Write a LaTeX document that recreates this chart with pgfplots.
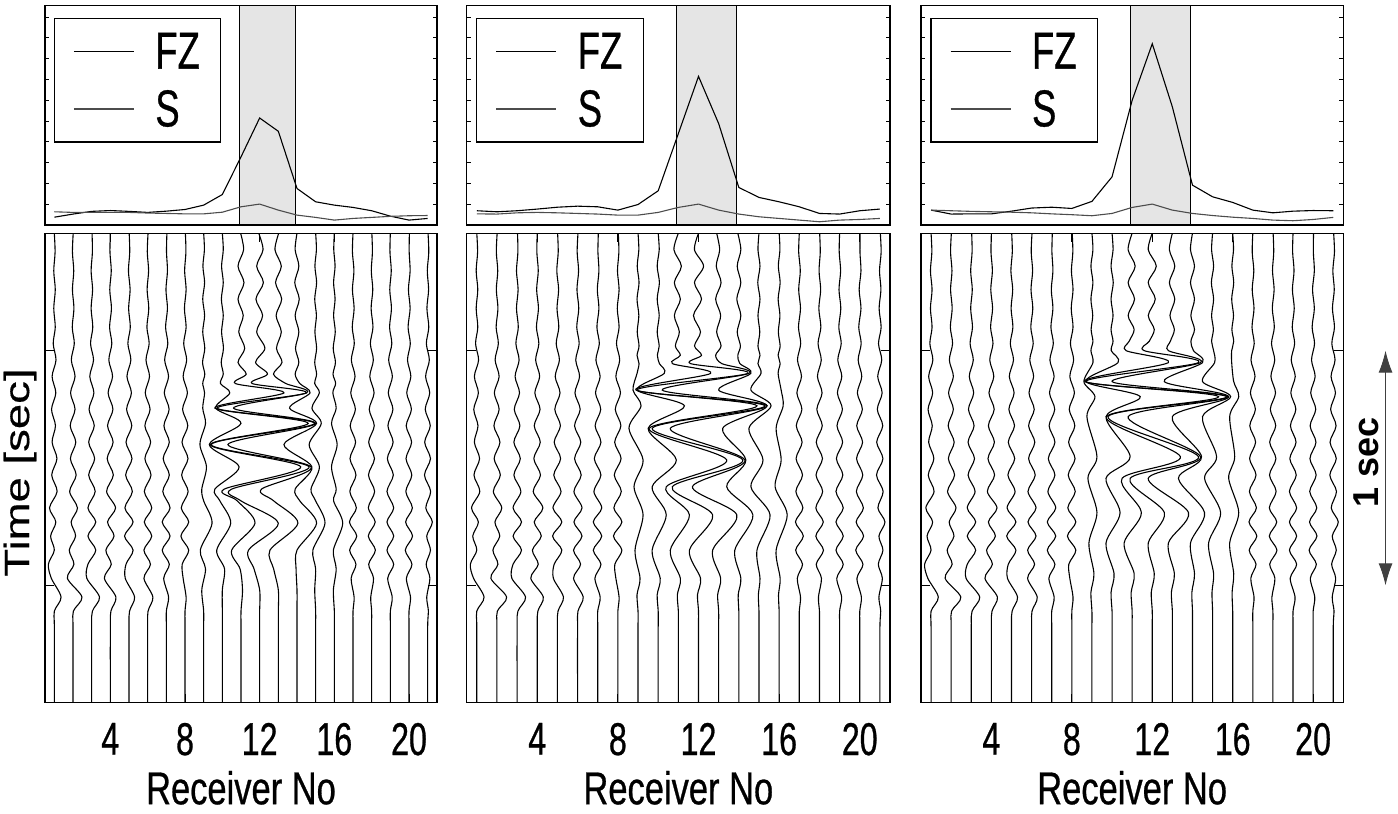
\documentclass[border=0pt]{standalone}
\usepackage{fontspec}
\usepackage{pgfplots}
\pgfplotsset{compat=1.18}
\usepackage{pgfplotstable}
\usetikzlibrary{arrows.meta}
\setmainfont{Liberation Sans}[FakeStretch=0.7,FakeBold=0.6]
\newfontfamily\lblfont{Liberation Sans}[FakeStretch=0.75,FakeBold=0.6]
\newfontfamily\timefont{Liberation Sans}[FakeStretch=1.3,FakeBold=0.4]
\newfontfamily\secfont{Liberation Sans}

% background traces (offsets from receiver position), same in all three panels
\pgfplotstableread{
t    r1    r2    r3    r4    r5    r6    r7    r8    r17   r18   r19   r20   r21
0.00 0.00  0.01  0.02  0.00  0.01  0.02  0.03  0.02  0.00  0.01  0.00  0.02  0.02
0.08 0.04  -0.03 0.04  -0.02 0.04  -0.02 0.01  0.05  -0.03 0.04  -0.02 0.01  0.06
0.16 -0.03 0.04  -0.03 0.05  -0.03 0.05  0.06  -0.02 0.05  -0.02 0.05  0.06  -0.02
0.24 0.05  -0.03 0.05  -0.03 0.06  -0.03 -0.02 0.06  -0.03 0.06  -0.03 -0.03 0.05
0.32 -0.03 0.05  -0.03 0.06  -0.02 0.06  0.06  -0.03 0.06  -0.03 0.06  0.06  -0.04
0.40 0.05  -0.04 0.06  -0.04 0.07  -0.04 -0.04 0.06  -0.04 0.07  -0.04 -0.05 0.06
0.47 -0.06 0.07  -0.06 0.08  -0.06 0.08  0.08  -0.07 0.07  -0.07 0.08  0.07  -0.07
0.54 0.09  -0.09 0.10  -0.08 0.10  -0.09 -0.09 0.09  -0.09 0.09  -0.09 -0.08 0.09
0.61 -0.12 0.11  -0.10 0.12  -0.11 0.10  0.12  -0.10 0.11  -0.10 0.11  0.10  -0.11
0.68 0.08  -0.13 0.12  -0.12 0.13  -0.13 -0.11 0.13  -0.12 0.13  -0.11 -0.12 0.11
0.75 -0.15 0.11  -0.14 0.14  -0.13 0.13  0.15  -0.13 0.13  -0.13 0.14  0.13  -0.13
0.82 0.06  -0.15 0.14  -0.15 0.15  -0.15 -0.13 0.15  -0.15 0.14  -0.13 -0.15 0.14
0.89 -0.12 0.15  -0.16 0.15  -0.16 0.16  0.16  -0.16 0.14  -0.16 0.15  0.14  -0.16
0.96 0.14  -0.14 0.16  -0.17 0.16  -0.15 -0.17 0.16  -0.16 0.15  -0.16 -0.16 0.15
1.03 -0.14 0.17  -0.16 0.16  -0.18 0.18  0.16  -0.18 0.16  -0.17 0.16  0.15  -0.17
1.10 0.15  -0.18 0.19  -0.20 0.18  -0.18 -0.19 0.17  -0.17 0.16  -0.18 -0.17 0.16
1.17 -0.26 0.24  -0.20 0.28  -0.22 0.22  0.20  -0.20 0.18  -0.18 0.18  0.18  -0.10
1.23 0.08  -0.10 0.22  -0.15 0.22  -0.18 -0.22 0.20  -0.19 0.19  -0.18 -0.18 0.25
1.29 -0.20 0.14  -0.20 0.20  -0.24 0.22  0.20  -0.22 0.20  -0.18 0.18  0.19  -0.05
1.35 0.00  -0.20 0.22  -0.24 0.22  -0.20 -0.22 0.20  -0.18 0.20  -0.18 -0.20 0.15
1.41 -0.32 0.05  -0.20 0.05  -0.16 0.15  0.16  -0.15 0.16  -0.16 0.18  0.16  -0.08
1.47 -0.16 -0.30 -0.26 -0.32 -0.20 -0.20 -0.14 -0.10 -0.10 0.10  -0.14 -0.14 0.12
1.55 0.36  0.48  0.42  0.30  0.30  0.28  0.12  0.06  0.06  -0.05 0.10  0.08  -0.05
1.61 0.00  0.02  0.04  0.03  0.03  0.02  0.00  0.00  0.00  0.00  0.00  0.00  0.04
1.68 0.00  0.00  0.00  0.00  0.00  0.00  0.00  0.00  0.00  0.00  0.00  0.00  0.00
2.00 0.00  0.00  0.00  0.00  0.00  0.00  0.00  0.00  0.00  0.00  0.00  0.00  0.00
}\outer

% central traces, panel 1 (absolute positions)
\pgfplotstableread{
t     r9    r10   r11   r12   r13   r14   r15   r16
0.00  9.00  10.00 10.98 11.95 13.02 14.00 15.00 16.00
0.07  9.04  10.05 11.14 12.18 12.82 13.90 15.04 15.97
0.14  8.96  9.96  10.84 11.84 13.16 14.10 14.96 16.04
0.21  9.05  10.05 11.16 12.20 12.85 13.88 15.05 15.96
0.28  8.95  9.95  10.84 11.80 13.18 14.12 14.95 16.04
0.35  9.05  10.05 11.12 12.16 12.88 13.90 15.04 15.96
0.42  8.95  9.96  10.88 11.84 13.16 14.10 14.96 16.05
0.49  9.06  10.06 11.20 12.28 12.90 13.92 15.05 15.94
0.55  8.94  9.94  10.84 11.78 13.20 14.10 14.95 16.06
0.60  9.06  10.05 11.28 12.42 12.74 13.90 15.05 15.93
0.64  8.95  9.90  10.70 11.60 13.40 14.15 14.95 16.07
0.68  9.05  10.40 13.30 14.50 14.50 14.70 15.20 15.92
0.745 8.95  9.65  9.60  9.72  10.60 13.60 14.80 16.10
0.81  9.10  11.00 14.60 14.95 15.00 15.05 15.30 15.85
0.90  8.80  9.30  9.35  9.40  10.30 13.30 14.65 16.15
0.995 9.15  10.90 14.20 14.65 14.75 14.80 15.20 15.85
1.09  8.90  9.60  10.10 10.50 12.10 13.90 14.75 16.10
1.14  9.00  9.87  10.80 11.00 12.75 14.15 15.00 15.96
1.235 9.45  10.45 11.75 13.00 14.05 15.05 15.50 16.45
1.35  8.82  9.70  10.50 11.40 12.55 14.00 14.85 15.95
1.43  9.10  10.12 10.95 11.70 12.75 13.95 15.00 16.10
1.52  8.90  10.00 11.08 12.00 13.00 14.00 14.95 15.95
1.61  9.00  10.00 11.00 12.00 13.00 14.00 15.00 16.00
1.68  9.00  10.00 11.00 12.00 13.00 14.00 15.00 16.00
2.00  9.00  10.00 11.00 12.00 13.00 14.00 15.00 16.00
}\waveA

% central traces, panel 2
\pgfplotstableread{
t     r9    r10   r11   r12   r13   r14   r15   r16
0.00  9.00  10.00 11.00 12.00 12.90 13.95 15.00 16.00
0.07  9.04  10.05 10.78 11.80 13.05 14.10 14.95 16.04
0.14  8.96  9.95  11.15 12.25 12.88 13.92 15.05 15.96
0.21  9.05  10.06 10.80 11.80 13.12 14.10 14.94 16.05
0.28  8.95  9.95  11.10 12.15 12.85 13.90 15.05 15.95
0.35  9.04  10.05 10.80 11.75 13.10 14.10 14.95 16.04
0.42  8.96  9.95  11.05 12.10 12.90 13.92 15.04 15.96
0.48  9.05  10.05 10.85 11.80 13.12 14.08 14.95 16.05
0.52  8.95  9.96  11.10 12.15 12.85 13.95 15.05 15.95
0.555 9.05  10.06 10.70 11.60 13.15 14.05 14.95 16.05
0.597 8.95  10.30 12.60 14.45 14.50 14.60 15.10 15.95
0.668 8.75  8.95  8.90  8.95  10.20 13.00 14.60 16.10
0.735 9.15  11.30 14.90 15.30 15.40 15.40 15.60 16.20
0.831 8.55  9.50  9.55  9.70  10.60 13.20 14.50 15.85
0.966 9.25  10.90 13.40 14.20 14.30 14.35 15.20 16.10
1.08  8.80  9.70  10.40 10.70 11.70 13.40 14.60 15.80
1.20  9.25  10.40 11.55 12.70 13.90 14.70 15.55 16.40
1.35  8.85  9.70  10.60 11.55 12.70 13.80 14.90 15.85
1.47  9.10  10.10 11.10 12.10 13.10 14.10 15.05 16.05
1.54  8.95  9.95  10.95 11.95 12.95 13.97 14.97 15.97
1.61  9.00  10.00 11.00 12.00 13.00 14.00 15.00 16.00
1.68  9.00  10.00 11.00 12.00 13.00 14.00 15.00 16.00
2.00  9.00  10.00 11.00 12.00 13.00 14.00 15.00 16.00
}\waveB

% central traces, panel 3
\pgfplotstableread{
t     r9    r10   r11   r12   r13   r14   r15   r16
0.00  9.00  10.00 11.00 12.00 13.00 14.00 15.00 16.00
0.07  9.05  10.05 10.80 11.80 12.85 13.90 14.95 16.04
0.14  8.95  9.95  11.15 12.20 13.12 14.10 15.05 15.96
0.21  9.05  10.06 10.80 11.80 12.85 13.90 14.94 16.05
0.28  8.95  9.95  11.12 12.15 13.12 14.10 15.05 15.95
0.35  9.04  10.05 10.80 11.80 12.88 13.92 14.95 16.04
0.41  8.96  9.95  11.10 12.10 13.10 14.10 15.04 15.96
0.46  9.05  10.05 10.85 11.85 12.90 13.92 14.95 16.05
0.50  8.95  9.96  10.70 11.60 12.80 14.05 15.05 15.95
0.551 9.05  10.30 12.80 14.30 14.40 14.50 15.10 15.95
0.632 8.60  8.70  8.65  8.70  10.00 12.60 14.50 16.05
0.696 9.15  11.40 15.30 15.70 15.75 15.80 15.90 16.30
0.781 8.75  9.70  9.72  9.80  10.80 13.00 14.50 15.85
0.952 9.25  10.90 13.40 14.30 14.40 14.45 15.20 16.10
1.044 8.80  9.70  10.50 10.90 11.80 13.30 14.60 15.80
1.19  9.25  10.40 11.46 12.60 13.80 14.60 15.40 16.30
1.32  8.85  9.70  10.60 11.80 12.80 13.90 14.80 15.85
1.45  9.10  10.10 11.10 12.10 13.10 14.10 15.05 16.05
1.53  8.95  9.95  10.95 11.95 12.95 13.97 14.97 15.97
1.61  9.00  10.00 11.00 12.00 13.00 14.00 15.00 16.00
1.68  9.00  10.00 11.00 12.00 13.00 14.00 15.00 16.00
2.00  9.00  10.00 11.00 12.00 13.00 14.00 15.00 16.00
}\waveC

\pgfplotsset{
  common/.style={scale only axis, xmin=0.5, xmax=21.5, axis on top,
    axis line style={line width=1.5pt}, tick align=inside, tick pos=both,
    every tick/.style={black, line width=1pt},
    /pgf/number format/assume math mode=true, anchor=south west},
  toppanel/.style={common, ymin=0, ymax=10.55, height=219.4pt, xtick=\empty,
    ytick={1,2,3,4,5,6,7,8,9,10}, yticklabels={}, major tick length=4pt,
    legend style={at={(0.022,0.944)}, anchor=north west, draw=black, line width=1.3pt,
      font=\fontsize{52}{56}\selectfont, inner xsep=19pt, inner ysep=12.2pt, row sep=16pt,
      nodes={inner sep=2pt}, /tikz/every odd column/.append style={column sep=19pt}},
    legend cell align=left,
    legend image code/.code={\draw[##1, line width=1.1pt] (0pt,0pt) -- (60pt,0pt);}},
  botpanel/.style={common, ymin=0, ymax=2, y dir=reverse, height=469.4pt,
    xtick={4,8,12,16,20}, ytick={0.5,1.5}, yticklabels={}, major tick length=9pt,
    xticklabel style={font=\fontsize{46}{50}\selectfont, inner sep=0pt, yshift=-20pt},
    xlabel={\lblfont\fontsize{46}{50}\selectfont Receiver No},
    xlabel style={at={(axis description cs:0.5,0)}, anchor=north, inner sep=0pt, yshift=-68pt},
    clip=false},
  trace/.style={black, line width=1.1pt, smooth},
  fzline/.style={black, line width=1.1pt},
  sline/.style={black!70, line width=1.1pt},
  shade/.style={fill=gray!20, draw=black, line width=1.2pt, forget plot},
}

\newcommand\outerplots{%
\addplot[trace] table[x expr=\thisrow{r1}+1,y=t]{\outer};
\addplot[trace] table[x expr=\thisrow{r2}+2,y=t]{\outer};
\addplot[trace] table[x expr=\thisrow{r3}+3,y=t]{\outer};
\addplot[trace] table[x expr=\thisrow{r4}+4,y=t]{\outer};
\addplot[trace] table[x expr=\thisrow{r5}+5,y=t]{\outer};
\addplot[trace] table[x expr=\thisrow{r6}+6,y=t]{\outer};
\addplot[trace] table[x expr=\thisrow{r7}+7,y=t]{\outer};
\addplot[trace] table[x expr=\thisrow{r8}+8,y=t]{\outer};
\addplot[trace] table[x expr=\thisrow{r17}+17,y=t]{\outer};
\addplot[trace] table[x expr=\thisrow{r18}+18,y=t]{\outer};
\addplot[trace] table[x expr=\thisrow{r19}+19,y=t]{\outer};
\addplot[trace] table[x expr=\thisrow{r20}+20,y=t]{\outer};
\addplot[trace] table[x expr=\thisrow{r21}+21,y=t]{\outer};
}
\newcommand\waveplots[1]{%
\addplot[trace] table[x=r9,y=t]{#1};
\addplot[trace] table[x=r10,y=t]{#1};
\addplot[trace] table[x=r11,y=t]{#1};
\addplot[trace] table[x=r12,y=t]{#1};
\addplot[trace] table[x=r13,y=t]{#1};
\addplot[trace] table[x=r14,y=t]{#1};
\addplot[trace] table[x=r15,y=t]{#1};
\addplot[trace] table[x=r16,y=t]{#1};
}

\begin{document}
\begin{tikzpicture}
\useasboundingbox (0pt,0pt) rectangle (1398pt,814pt);

% ---------- panel 1 ----------
\begin{axis}[toppanel, at={(45pt,588.9pt)}, width=392pt]
\addplot[shade] coordinates {(10.9,10.55) (13.9,10.55)} \closedcycle;
\addplot[fzline] coordinates {(1,0.38) (2,0.53) (3,0.66) (4,0.70) (5,0.66) (6,0.61) (7,0.67) (8,0.75) (9,0.96) (10,1.47) (11,3.28) (12,5.15) (13,4.51) (14,1.76) (15,1.12) (16,0.96) (17,0.85) (18,0.69) (19,0.43) (20,0.24) (21,0.32)};
\addlegendentry{FZ}
\addplot[sline] coordinates {(1,0.64) (2,0.61) (3,0.61) (4,0.61) (5,0.61) (6,0.58) (7,0.56) (8,0.54) (9,0.54) (10,0.62) (11,0.88) (12,1.01) (13,0.72) (14,0.48) (15,0.37) (16,0.24) (17,0.32) (18,0.37) (19,0.42) (20,0.45) (21,0.46)};
\addlegendentry{S}
\end{axis}
\begin{axis}[botpanel, at={(45pt,111.3pt)}, width=392pt]
\outerplots
\waveplots{\waveA}
\end{axis}

% ---------- panel 2 ----------
\begin{axis}[toppanel, at={(466.7pt,588.9pt)}, width=423.3pt]
\addplot[shade] coordinates {(10.9,10.55) (13.9,10.55)} \closedcycle;
\addplot[fzline] coordinates {(1,0.69) (2,0.64) (3,0.69) (4,0.77) (5,0.86) (6,0.91) (7,0.88) (8,0.72) (9,0.99) (10,1.65) (11,4.40) (12,7.15) (13,4.88) (14,1.81) (15,1.33) (16,1.12) (17,0.88) (18,0.56) (19,0.53) (20,0.69) (21,0.77)};
\addlegendentry{FZ}
\addplot[sline] coordinates {(1,0.54) (2,0.53) (3,0.59) (4,0.61) (5,0.59) (6,0.56) (7,0.53) (8,0.48) (9,0.48) (10,0.61) (11,0.85) (12,1.01) (13,0.72) (14,0.53) (15,0.40) (16,0.32) (17,0.24) (18,0.16) (19,0.24) (20,0.27) (21,0.32)};
\addlegendentry{S}
\end{axis}
\begin{axis}[botpanel, at={(466.7pt,111.3pt)}, width=423.3pt]
\outerplots
\waveplots{\waveB}
\end{axis}

% ---------- panel 3 ----------
\begin{axis}[toppanel, at={(921pt,588.9pt)}, width=422.3pt]
\addplot[shade] coordinates {(10.9,10.55) (13.9,10.55)} \closedcycle;
\addplot[fzline] coordinates {(1,0.72) (2,0.53) (3,0.54) (4,0.54) (5,0.67) (6,0.82) (7,0.86) (8,0.80) (9,1.14) (10,2.32) (11,6.00) (12,8.72) (13,5.68) (14,1.92) (15,1.36) (16,1.09) (17,0.72) (18,0.59) (19,0.67) (20,0.70) (21,0.69)};
\addlegendentry{FZ}
\addplot[sline] coordinates {(1,0.72) (2,0.69) (3,0.66) (4,0.64) (5,0.62) (6,0.59) (7,0.54) (8,0.50) (9,0.45) (10,0.56) (11,0.85) (12,1.01) (13,0.72) (14,0.56) (15,0.46) (16,0.38) (17,0.32) (18,0.24) (19,0.21) (20,0.27) (21,0.37)};
\addlegendentry{S}
\end{axis}
\begin{axis}[botpanel, at={(921pt,111.3pt)}, width=422.3pt]
\outerplots
\waveplots{\waveC}
\draw[black!75, line width=1pt, {Latex[length=22pt,width=14pt]}-{Latex[length=22pt,width=14pt]}] (axis cs:23.6,0.5) -- (axis cs:23.6,1.5);
\node[rotate=90, font=\secfont\bfseries\fontsize{36}{40}\selectfont] at (axis cs:22.65,0.975) {1 sec};
\end{axis}

\node[rotate=90, font=\timefont\fontsize{35}{40}\selectfont] at (20pt,341.5pt) {Time [sec]};
\end{tikzpicture}
\end{document}
